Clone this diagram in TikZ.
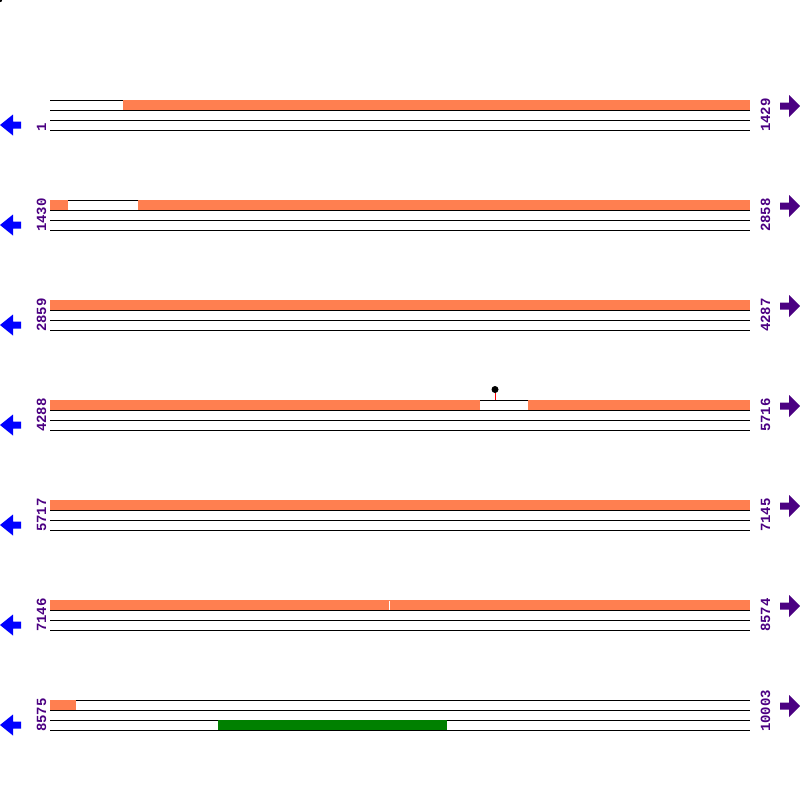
\documentclass[tikz,border=0pt]{standalone}
\usepackage{fontspec}
\newfontfamily\lblfont{Liberation Mono}
\definecolor{coralc}{HTML}{FF7F50}
\definecolor{indig}{HTML}{4B0082}
\definecolor{grn}{HTML}{008000}
\definecolor{blu}{HTML}{0000FF}
\tikzset{
  track/.style={draw=black, line width=1pt},
  orangebox/.style={fill=coralc, draw=none},
  greenbox/.style={fill=grn, draw=none},
  lbl/.style={text=indig, font=\lblfont\bfseries\fontsize{14}{14}\selectfont, inner sep=0pt, rotate=90, anchor=base west},
  leftarrow/.style={fill=blu, draw=none},
  rightarrow/.style={fill=indig, draw=none}
}
\begin{document}
\begin{tikzpicture}[x=1pt,y=-1pt]
\useasboundingbox (0,0) rectangle (800,800);
\begin{scope}
\clip (0,0) rectangle (800,800);
\fill[black] (0,0) circle (2.2);
\end{scope}
\foreach \r/\a/\b in {1/1/1429, 2/1430/2858, 3/2859/4287, 4/4288/5716, 5/5717/7145, 6/7146/8574, 7/8575/10003}{
  \pgfmathsetmacro{\yo}{100*\r}
  \foreach \k in {0,10,20,30}{
    \draw[track] (50,\yo+\k) -- (750,\yo+\k);
  }
  \node[lbl] (L\r) at (46,\yo+32) {\a};
  \node[lbl] (R\r) at (770,\yo+32) {\b};
  \fill[leftarrow] (0,\yo+25) -- (13,\yo+14.5) -- (13,\yo+21.5) -- (21,\yo+21.5) -- (21,\yo+28.5) -- (13,\yo+28.5) -- (13,\yo+35.5) -- cycle;
  \fill[rightarrow] (800,\yo+6) -- (789,\yo-5) -- (789,\yo+2.5) -- (780,\yo+2.5) -- (780,\yo+9.5) -- (789,\yo+9.5) -- (789,\yo+17) -- cycle;
}
% row 1
\fill[orangebox] (123,100) rectangle (750,110);
% row 2
\fill[orangebox] (50,200) rectangle (68,210);
\fill[orangebox] (138,200) rectangle (750,210);
% row 3
\fill[orangebox] (50,300) rectangle (750,310);
% row 4
\fill[orangebox] (50,400) rectangle (480,410);
\fill[orangebox] (528,400) rectangle (750,410);
\draw[red, line width=1pt] (495,400) -- (495,390);
\fill[black] (495,389.5) circle (3.5);
% row 5
\fill[orangebox] (50,500) rectangle (750,510);
% row 6
\fill[orangebox] (50,600) rectangle (750,610);
\draw[white, line width=1pt] (389.5,600.5) -- (389.5,609.5);
% row 7
\fill[orangebox] (50,700) rectangle (76,710);
\fill[greenbox] (218,720) rectangle (447,730);
\end{tikzpicture}
\end{document}
